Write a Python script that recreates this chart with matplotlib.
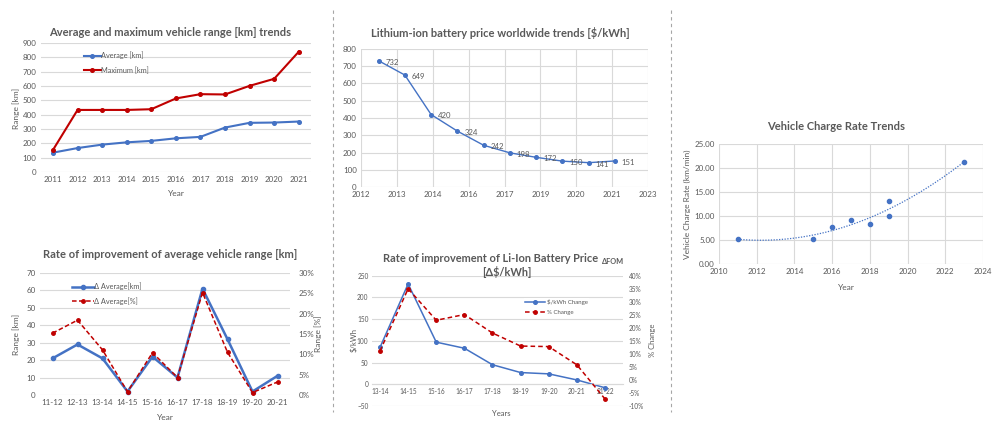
import numpy as np
import matplotlib
matplotlib.use('Agg')
import matplotlib.pyplot as plt
from matplotlib.ticker import FuncFormatter, MultipleLocator, FixedLocator
from matplotlib.lines import Line2D

plt.rcParams['font.family'] = ['Lato', 'DejaVu Sans']

W, H = 1000, 428
TXT = '#595959'
GRID = '#D9D9D9'
BLUE = '#4472C4'
RED = '#C00000'
TICK = 5.8

# ---------------- data ----------------
range_years = ['2011', '2012', '2013', '2014', '2015', '2016', '2017', '2018', '2019', '2020', '2021']
avg_range = [135, 167, 191, 207, 217, 235, 245, 310, 343, 345, 352]
max_range = [154, 433, 433, 433, 438, 513, 543, 541, 601, 650, 839]

price_years = [2013, 2014, 2015, 2016, 2017, 2018, 2019, 2020, 2021, 2022]
price = [732, 649, 420, 324, 242, 198, 172, 150, 141, 151]
price_tick_labels = ['2012', '2013', '2014', '2016', '2017', '2019', '2020', '2021', '2023']

range_periods = ['11-12', '12-13', '13-14', '14-15', '15-16', '16-17', '17-18', '18-19', '19-20', '20-21']
d_avg_km = [21, 29, 21, 2, 22, 10, 61, 32, 2, 11]
d_avg_pct = [15.2, 18.4, 11.1, 0.8, 10.4, 4.3, 25.2, 10.5, 0.6, 3.2]

price_periods = ['13-14', '14-15', '15-16', '16-17', '17-18', '18-19', '19-20', '20-21', '21-22']
d_price = [85, 231, 97, 83, 45, 27, 24, 10, -8]
d_price_pct = [11.1, 35.0, 22.9, 25.1, 18.0, 13.0, 12.8, 5.8, -7.3]

charge_years = [2011, 2015, 2016, 2017, 2018, 2019, 2019, 2023]
charge_rate = [5.2, 5.2, 7.8, 9.1, 8.3, 13.2, 10.0, 21.3]

# ---------------- helpers ----------------
fig = plt.figure(figsize=(W / 100, H / 100), dpi=100)


def rect(l, t, r, b):
    return [l / W, 1 - b / H, (r - l) / W, (b - t) / H]


def fx(x):
    return x / W


def fy(y):
    return 1 - y / H


def style(ax, xgrid=False, grid=True, pad=3, size=TICK):
    for s in ax.spines.values():
        s.set_visible(False)
    if grid:
        ax.grid(axis='y', color=GRID, lw=0.8)
    if xgrid:
        ax.grid(axis='x', color=GRID, lw=0.8)
    ax.set_axisbelow(True)
    ax.tick_params(length=0, labelsize=size, colors=TXT, pad=pad)


def title(x, y, s, size=8):
    return fig.text(fx(x), fy(y), s, ha='center', va='center', fontsize=size,
                    fontweight='bold', color=TXT)


def label(x, y, s, rot=0, size=6):
    fig.text(fx(x), fy(y), s, ha='center', va='center', fontsize=size,
             color=TXT, rotation=rot)


LEG = dict(frameon=False, fontsize=5.3, borderpad=0, labelcolor=TXT)

# ---------------- panel 1 ----------------
ax1 = fig.add_axes(rect(40.7, 43, 311, 172))
style(ax1)
xi = np.arange(len(range_years))
ax1.plot(xi, avg_range, color=BLUE, lw=1.5, marker='o', ms=2.6, label='Average [km]')
ax1.plot(xi, max_range, color=RED, lw=1.5, marker='o', ms=2.6, label='Maximum [km]')
ax1.set_xlim(-0.5, len(range_years) - 0.5)
ax1.set_ylim(0, 900)
ax1.yaxis.set_major_locator(MultipleLocator(100))
ax1.set_xticks(xi)
ax1.set_xticklabels(range_years)
ax1.legend(loc='upper left', bbox_to_anchor=(fx(80), fy(48)), bbox_transform=fig.transFigure,
           handlelength=2.3, handletextpad=0.1, labelspacing=0.95, **LEG)
title(170, 32, 'Average and maximum vehicle range [km] trends')
label(16, 108, 'Range [km]', rot=90)
label(176, 194, 'Year')

# ---------------- panel 2 ----------------
ax2 = fig.add_axes(rect(361, 49, 648, 187))
style(ax2, xgrid=True)
ax2.plot(price_years, price, color=BLUE, lw=1.0, marker='o', ms=2.6)
xl0, xl1 = 2012.33, 2023.26
ax2.set_xlim(xl0, xl1)
ax2.set_ylim(0, 800)
ax2.yaxis.set_major_locator(MultipleLocator(100))
ax2.xaxis.set_major_locator(FixedLocator(np.linspace(xl0, xl1, len(price_tick_labels))))
ax2.set_xticklabels(price_tick_labels)
for xv, yv in zip(price_years, price):
    ax2.annotate(str(yv), (xv, yv), xytext=(5, -1), textcoords='offset points',
                 ha='left', va='center', fontsize=5.6, color=TXT)
title(500, 33, 'Lithium-ion battery price worldwide trends [$/kWh]')

# ---------------- panel 3 ----------------
ax3 = fig.add_axes(rect(40, 273, 290, 395))
style(ax3)
xi3 = np.arange(len(range_periods))
ax3.plot(xi3, d_avg_km, color=BLUE, lw=1.8, marker='o', ms=3, label='Δ Average[km]')
ax3.set_xlim(-0.5, len(range_periods) - 0.5)
ax3.set_ylim(0, 70)
ax3.yaxis.set_major_locator(MultipleLocator(10))
ax3.set_xticks(xi3)
ax3.set_xticklabels(range_periods)
ax3b = ax3.twinx()
style(ax3b, grid=False, pad=6)
ax3b.plot(xi3, d_avg_pct, color=RED, lw=1.1, ls=(0, (3, 1.6)), marker='o', ms=2.5,
          label='Δ Average[%]')
ax3b.set_ylim(0, 30)
ax3b.yaxis.set_major_locator(MultipleLocator(5))
ax3b.yaxis.set_major_formatter(FuncFormatter(lambda v, p: f'{v:.0f}%'))
h1, l1 = ax3.get_legend_handles_labels()
h2, l2 = ax3b.get_legend_handles_labels()
ax3b.legend(h1 + h2, l1 + l2, loc='upper left', bbox_to_anchor=(fx(68), fy(279)),
            bbox_transform=fig.transFigure, handlelength=3.0, handletextpad=0.1,
            labelspacing=0.9, **LEG)
title(170, 254, 'Rate of improvement of average vehicle range [km]')
label(16, 334, 'Range [km]', rot=90)
label(318, 334, 'Range [%]', rot=90)
label(165, 418, 'Year')

# ---------------- panel 4 ----------------
T4 = 4.7
ax4 = fig.add_axes(rect(372, 275.7, 623, 406))
style(ax4, pad=2.5, size=T4)
xi4 = np.arange(len(price_periods))
ax4.plot(xi4, d_price, color=BLUE, lw=1.1, marker='o', ms=2.6, label='$/kWh Change')
ax4.set_xlim(-0.284, len(price_periods) - 1 + 0.64)
ax4.set_ylim(-50, 250)
ax4.yaxis.set_major_locator(MultipleLocator(50))
ax4.set_xticks(xi4)
ax4.set_xticklabels(price_periods)
ax4.tick_params(axis='x', pad=3)
ax4.spines['bottom'].set_visible(True)
ax4.spines['bottom'].set_position(('data', 0))
ax4.spines['bottom'].set_color(GRID)
ax4b = ax4.twinx()
style(ax4b, grid=False, pad=4, size=T4)
ax4b.plot(xi4, d_price_pct, color=RED, lw=1.1, ls=(0, (3, 2)), marker='o', ms=2.5,
          label='% Change')
ax4b.set_ylim(-10, 40)
ax4b.yaxis.set_major_locator(MultipleLocator(5))
ax4b.yaxis.set_major_formatter(FuncFormatter(lambda v, p: f'{v:.0f}%'))
h1, l1 = ax4.get_legend_handles_labels()
h2, l2 = ax4b.get_legend_handles_labels()
leg4 = ax4b.legend(h1 + h2, l1 + l2, loc='upper left', bbox_to_anchor=(fx(521), fy(295)),
                   bbox_transform=fig.transFigure, fancybox=False,
                   handlelength=3.3, handletextpad=0.3, labelspacing=0.8,
                   frameon=True, fontsize=4.4, borderpad=0.2, labelcolor=TXT)
leg4.get_frame().set_edgecolor('none')
leg4.get_frame().set_facecolor('white')
leg4.get_frame().set_alpha(1)
t4 = fig.text(fx(383), fy(259), 'Rate of improvement of Li-Ion Battery Price ', ha='left',
              va='center', fontsize=7.9, fontweight='bold', color=TXT)
tfom = fig.text(fx(600), fy(261), 'ΔFOM', fontsize=5.3, fontweight='bold', color=TXT,
                ha='left', va='center')
title(507, 272, '[Δ$/kWh]', size=7.9)
label(354, 340, '$/kWh', rot=90, size=5.5)
label(653, 340, '% Change', rot=90, size=5.5)
label(501, 413, 'Years', size=5.5)

# ---------------- panel 5 ----------------
ax5 = fig.add_axes(rect(719, 144, 983, 264))
style(ax5, xgrid=True)
ax5.scatter(charge_years, charge_rate, s=9, color=BLUE, zorder=3)
coef = np.polyfit(charge_years, charge_rate, 2)
xs = np.linspace(min(charge_years), max(charge_years), 200)
ax5.plot(xs, np.polyval(coef, xs), color=BLUE, lw=0.9, ls=(0, (1, 1.2)))
ax5.set_xlim(2010, 2024)
ax5.set_ylim(0, 25)
ax5.xaxis.set_major_locator(MultipleLocator(2))
ax5.yaxis.set_major_locator(MultipleLocator(5))
ax5.yaxis.set_major_formatter(FuncFormatter(lambda v, p: f'{v:.2f}'))
title(836, 127, 'Vehicle Charge Rate Trends')
label(687, 204, 'Vehicle Charge Rate (km/min)', rot=90)
label(846, 287, 'Year')

# ---------------- separators ----------------
for xs_ in (333, 671):
    fig.add_artist(Line2D([fx(xs_)] * 2, [fy(10), fy(412)], transform=fig.transFigure,
                          ls=(0, (3, 3)), color='#A6A6A6', lw=0.8))

# place ΔFOM right after the title text
fig.canvas.draw()
bb = t4.get_window_extent()
tfom.set_position(((bb.x1 + 1) / W, fy(261)))

fig.savefig('out.png', dpi=100)
